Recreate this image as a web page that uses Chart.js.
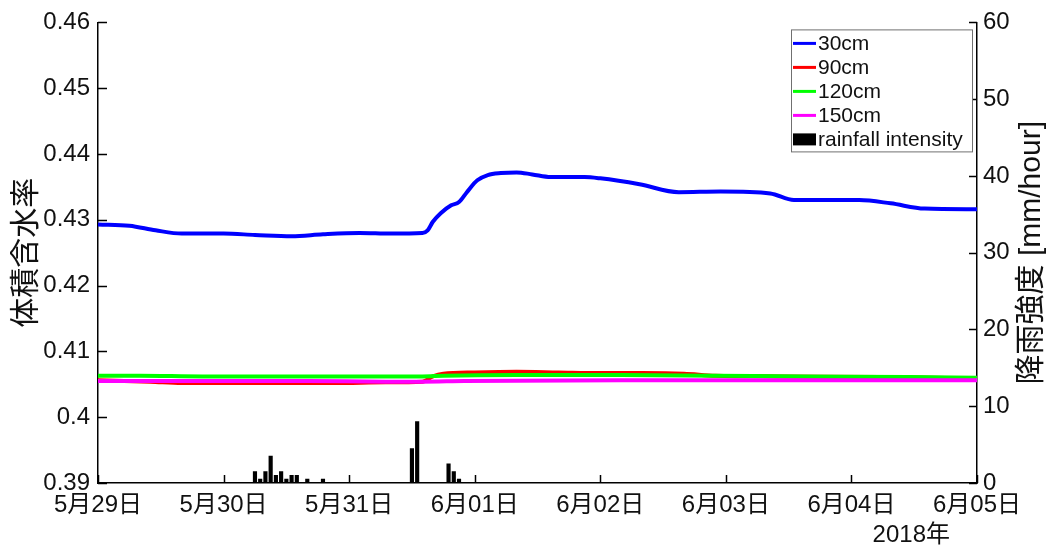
<!DOCTYPE html>
<html>
<head>
<meta charset="utf-8">
<script src="https://cdn.jsdelivr.net/npm/chart.js@4/dist/chart.umd.min.js"></script>
<style>
  html, body { margin: 0; padding: 0; background: #fff; }
  #wrap { width: 1048px; height: 548px; }
</style>
</head>
<body>
<div id="wrap"><canvas id="moistureChart" width="1048" height="548"></canvas></div>
<script>
const FONT = "'Liberation Sans', 'Noto Sans CJK JP', sans-serif";
const INK = '#111';

// x values are hours since 2018-05-29 00:00
const dayLabels = ['5月29日', '5月30日', '5月31日', '6月01日', '6月02日', '6月03日', '6月04日', '6月05日'];
const yearLabel = '2018年';

const depth30Hours = [0, 6, 11, 16, 24, 30, 37, 43, 50, 56, 62, 63, 64, 65.5, 67.5, 69, 70.5, 72.5, 74.5, 77, 80, 83, 86.5, 93, 96, 103.5, 111, 119, 128.5, 133, 140, 145.5, 151.5, 158, 168];
const depth30Values = [0.4293, 0.4291, 0.4284, 0.4279, 0.4279, 0.4277, 0.4275, 0.4278, 0.4280, 0.4279, 0.4280, 0.4284, 0.4297, 0.4310, 0.4322, 0.4327, 0.4342, 0.4360, 0.4368, 0.4371, 0.4372, 0.4369, 0.4365, 0.4365, 0.4363, 0.4354, 0.4342, 0.4343, 0.4340, 0.4330, 0.4330, 0.4330, 0.4325, 0.4317, 0.4316];

const depth90Hours = [0, 10, 16, 30, 45, 55, 62, 64, 66, 72, 80, 88, 96, 104, 112, 118, 130, 150, 168];
const depth90Values = [0.4056, 0.4054, 0.4052, 0.4052, 0.4052, 0.4053, 0.4054, 0.4062, 0.4066, 0.4068, 0.4069, 0.4068, 0.4067, 0.4067, 0.4066, 0.4063, 0.4062, 0.4061, 0.4059];

const depth120Hours = [0, 8, 20, 40, 62, 66, 80, 100, 118, 135, 155, 168];
const depth120Values = [0.4063, 0.4063, 0.4062, 0.4062, 0.4062, 0.4063, 0.4064, 0.4064, 0.4063, 0.4062, 0.4061, 0.4060];

const depth150Hours = [0, 40, 55, 62, 70, 100, 168];
const depth150Values = [0.4055, 0.4055, 0.4054, 0.4054, 0.4055, 0.4056, 0.4056];

const rainHours = [30, 31, 32, 33, 34, 35, 36, 37, 38, 40, 43, 60, 61, 67, 68, 69];
const rainValues = [1.5, 0.5, 1.5, 3.5, 1.0, 1.5, 0.5, 1.0, 1.0, 0.5, 0.5, 4.5, 8.0, 2.5, 1.5, 0.5];

function toPoints(xs, ys) {
    return xs.map((x, i) => ({x: x, y: ys[i]}));
}

function lineSet(label, xs, ys, color, order) {
    return {
        type: 'line',
        label: label,
        data: toPoints(xs, ys),
        borderColor: color,
        backgroundColor: color,
        borderWidth: 4,
        pointRadius: 0,
        cubicInterpolationMode: 'monotone',
        yAxisID: 'y',
        order: order
    };
}

// inward tick marks, boxed legend, right-hand title and the year line
const decorations = {
    id: 'decorations',
    afterDraw(chart) {
        const ctx = chart.ctx;
        const area = chart.chartArea;
        const sx = chart.scales.x, sy = chart.scales.y, sy2 = chart.scales.y2;

        ctx.save();
        ctx.strokeStyle = '#000';
        ctx.lineWidth = 1.5;
        ctx.beginPath();
        sy.ticks.forEach(t => {
            const p = Math.round(sy.getPixelForValue(t.value)) + 0.5;
            ctx.moveTo(area.left, p);
            ctx.lineTo(area.left + 9, p);
        });
        sy2.ticks.forEach(t => {
            const p = Math.round(sy2.getPixelForValue(t.value)) + 0.5;
            ctx.moveTo(area.right, p);
            ctx.lineTo(area.right - 8, p);
        });
        sx.ticks.forEach(t => {
            const p = Math.round(sx.getPixelForValue(t.value)) + 0.5;
            ctx.moveTo(p, area.bottom);
            ctx.lineTo(p, area.bottom - 8);
        });
        ctx.stroke();

        // legend
        const bw = 181, bh = 122;
        const bx = area.right - bw - 5, by = area.top + 7;
        ctx.fillStyle = '#fff';
        ctx.fillRect(bx, by, bw, bh);
        ctx.strokeStyle = '#707070';
        ctx.lineWidth = 1;
        ctx.strokeRect(bx + 0.5, by + 0.5, bw, bh);
        ctx.font = '21px ' + FONT;
        ctx.textBaseline = 'middle';
        ctx.textAlign = 'left';
        chart.data.datasets.forEach((ds, i) => {
            const cy = by + 14 + i * 24;
            if (ds.type === 'bar') {
                ctx.fillStyle = ds.backgroundColor;
                ctx.fillRect(bx + 2, cy - 6, 23, 12);
            } else {
                ctx.strokeStyle = ds.borderColor;
                ctx.lineWidth = 3;
                ctx.beginPath();
                ctx.moveTo(bx + 2, cy);
                ctx.lineTo(bx + 25, cy);
                ctx.stroke();
            }
            ctx.fillStyle = INK;
            ctx.fillText(ds.label, bx + 27, cy + 1);
        });

        // right axis title, read bottom to top
        ctx.font = '30px ' + FONT;
        ctx.fillStyle = INK;
        ctx.textAlign = 'center';
        ctx.translate(1032, (area.top + area.bottom) / 2);
        ctx.rotate(-Math.PI / 2);
        ctx.fillText('降雨強度 [mm/hour]', 0, 0);
        ctx.restore();

        ctx.save();
        ctx.font = '24px ' + FONT;
        ctx.fillStyle = INK;
        ctx.textAlign = 'right';
        ctx.textBaseline = 'middle';
        ctx.fillText(yearLabel, sx.getPixelForValue(168) - 27, 535);
        ctx.restore();
    }
};

const axisBorder = {display: true, color: '#000', width: 1.5};

new Chart('moistureChart', {
    data: {
        datasets: [
            lineSet('30cm', depth30Hours, depth30Values, '#0000ff', 3),
            lineSet('90cm', depth90Hours, depth90Values, '#ff0000', 2),
            lineSet('120cm', depth120Hours, depth120Values, '#00ff00', 1),
            lineSet('150cm', depth150Hours, depth150Values, '#ff00ff', 0),
            {
                type: 'bar',
                label: 'rainfall intensity',
                data: toPoints(rainHours, rainValues),
                backgroundColor: '#000',
                barThickness: 3.5,
                yAxisID: 'y2',
                order: 4
            }
        ]
    },
    options: {
        responsive: false,
        devicePixelRatio: 1,
        animation: false,
        layout: {padding: {top: 22, left: 0, right: 0, bottom: 0}},
        plugins: {
            legend: {display: false},
            tooltip: {enabled: false}
        },
        scales: {
            x: {
                type: 'linear',
                min: 0,
                max: 168,
                offset: false,
                grid: {display: false, drawTicks: false},
                border: axisBorder,
                ticks: {
                    stepSize: 24,
                    autoSkip: false,
                    maxRotation: 0,
                    padding: 8,
                    color: INK,
                    font: {family: FONT, size: 24},
                    callback: v => dayLabels[Math.round(v / 24)]
                },
                afterFit: s => { s.height = 65; }
            },
            y: {
                position: 'left',
                min: 0.39,
                max: 0.46,
                grid: {display: false, drawTicks: false},
                border: axisBorder,
                ticks: {
                    stepSize: 0.01,
                    padding: 8,
                    color: INK,
                    font: {family: FONT, size: 24},
                    callback: v => String(+v.toFixed(2))
                },
                title: {
                    display: true,
                    text: '体積含水率',
                    color: INK,
                    font: {family: FONT, size: 30},
                    padding: {top: 9, bottom: 0}
                },
                afterFit: s => { s.width = 98; }
            },
            y2: {
                position: 'right',
                min: 0,
                max: 60,
                grid: {display: false, drawTicks: false},
                border: axisBorder,
                ticks: {
                    stepSize: 10,
                    padding: 6,
                    color: INK,
                    font: {family: FONT, size: 24}
                },
                afterFit: s => { s.width = 71; }
            }
        }
    },
    plugins: [decorations]
});
</script>
</body>
</html>
